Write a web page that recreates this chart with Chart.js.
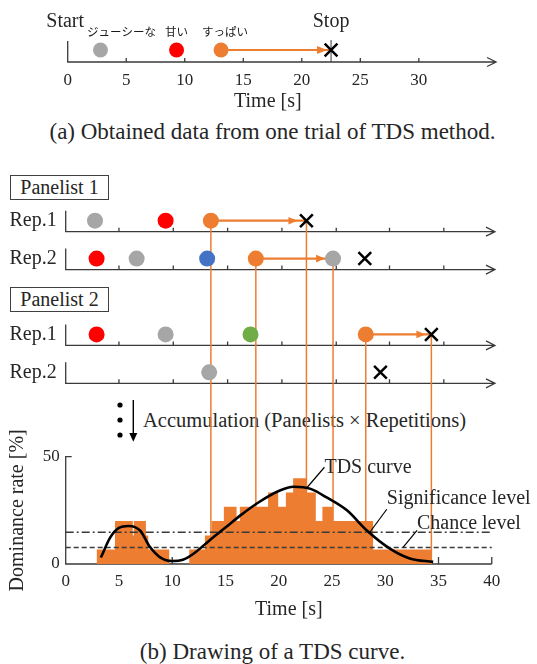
<!DOCTYPE html>
<html>
<head>
<meta charset="utf-8">
<script src="https://cdn.jsdelivr.net/npm/chart.js@4.4.1/dist/chart.umd.min.js"></script>
<style>
  html, body { margin: 0; padding: 0; background: #fff; }
  body { position: relative; width: 537px; height: 664px; overflow: hidden;
         font-family: "Liberation Serif", "Times New Roman", serif; color: #262626; }
  canvas { position: absolute; left: 0; z-index: 1; }
  .cap { position: absolute; left: 0; width: 545px; text-align: center; font-size: 23px; line-height: 28px; }
  .panel { position: absolute; left: 10px; width: 99px; height: 25px; box-sizing: border-box;
           border: 1.5px solid #404040; font-size: 20px; text-align: center; line-height: 22px; }
  .accum { position: absolute; left: 143px; top: 408px; font-size: 20.5px; line-height: 24px;
           white-space: nowrap; z-index: 0; }
</style>
</head>
<body>
<canvas id="chartA" width="537" height="118" style="top:0"></canvas>
<div class="cap" style="top:118px">(a) Obtained data from one trial of TDS method.</div>
<canvas id="chartB" width="537" height="460" style="top:170px"></canvas>
<div class="panel" style="top:175px">Panelist 1</div>
<div class="panel" style="top:287px">Panelist 2</div>
<div class="accum">Accumulation (Panelists × Repetitions)</div>
<div class="cap" style="top:638px">(b) Drawing of a TDS curve.</div>

<script>
// (a) one trial
const tickValsA = [0, 5, 10, 15, 20, 25, 30];
const axisEndA = 36.6;
const trialAttrs = ['ジューシーな', '甘い', 'すっぱい'];
const trialTimes = [2.8, 9.3, 13.1];
const stopA = 22.5;

// (b) panelists x repetitions
const rowLabels = ['Rep.1', 'Rep.2', 'Rep.1', 'Rep.2'];
const rowPos = [0, 1, 3, 4];
const rowTicks = [5.0, 10.1, 15.2, 20.3, 25.4, 30.4, 35.5];
const rowAxisEnd = 40.3;
// [row, time]
const juicyPts = [[0, 2.75], [1, 6.66], [1, 25.1], [2, 9.38], [3, 13.47]];
const sweetPts = [[0, 9.38], [1, 2.9], [2, 2.9]];
const sourPts = [[0, 13.63], [1, 17.85], [2, 28.17]];
const sourEnds = [22.6, 25.1, 34.33];
const bluePts = [[1, 13.28]];
const greenPts = [[2, 17.35]];
const stopPts = [[0, 22.6], [1, 28.08], [2, 34.33], [3, 29.55]];

// (b) dominance rate
const tickValsB = [0, 5, 10, 15, 20, 25, 30, 35, 40];
const rateTicks = [0, 50];
const binEdges = [2.9, 4.63, 6.3, 6.4, 7.53, 7.75, 9.72, 11.6, 13.07, 13.7, 14.85, 16.04, 16.35,
                  19.0, 19.95, 20.67, 21.35, 22.6, 23.48, 24.1, 25.1, 28.86, 34.35];
const binRates = [6.7, 20, 13.3, 20, 13.3, 6.7, 0, 6.7, 13.3, 20, 26.7, 20, 26.7,
                  33.3, 26.7, 33.3, 40, 33.3, 20, 26.7, 20, 6.7];
const curveT = [3.3, 4.2, 5.0, 5.9, 7.0, 7.9, 8.9, 10.0, 11.0, 12.0, 13.5, 15.0, 16.5, 18.2,
                20.0, 21.4, 23.0, 24.5, 26.4, 28.3, 30.4, 32.3, 34.5];
const curveRate = [3.0, 12.5, 16.8, 17.7, 15.5, 8.0, 3.0, 1.4, 2.0, 4.8, 11.0, 17.0, 23.0, 29.0,
                   34.0, 36.0, 35.0, 31.0, 25.0, 15.5, 7.3, 2.6, 1.0];
const sigLevel = 14.8;
const chanceLevel = 7.7;
const levelSpan = [0, 40];
const notes = ['TDS curve', 'Significance level', 'Chance level'];
const noteAt = [[22.6, 35.3], [28.55, 14.8], [31.67, 7.7]];

// styles
const ink = '#262626', axisInk = '#3a3a3a', orange = '#ed7d31';
const gray = '#a6a6a6', red = '#ff0000', blue = '#4472c4', green = '#70ad47';
const serif = '"Liberation Serif", "Times New Roman", serif';
const trialColors = [gray, red, orange];
const labelShiftA = [21, 0, 4];
const rowGap = 11;               // px from marker level down to row baseline
const arrowGapB = [9, 8, 6];     // px between arrow tip and end marker
const noteOffsets = [[18, -21, 1], [17, -23, -10], [14, -17, -7]];

Chart.defaults.font.family = serif;
Chart.defaults.color = ink;
Chart.defaults.animation = false;

function rowXY(pts) {
  return pts.map(([row, t]) => ({x: t, y: rowPos[row]}));
}

// keep the stacked left axes from adding label padding to the chart area
function noPad(s) {
  s.paddingTop = 0;
  s.paddingBottom = 0;
}

function arrowHead(ctx, xTip, yy, len, half) {
  ctx.fillStyle = orange;
  ctx.beginPath();
  ctx.moveTo(xTip, yy);
  ctx.lineTo(xTip - len, yy - half);
  ctx.lineTo(xTip - len, yy + half);
  ctx.closePath();
  ctx.fill();
}

// time axis with open arrow, start bar and small upward ticks
function timeAxis(ctx, x0, x1, yb, tickXs) {
  ctx.beginPath();
  ctx.moveTo(x0, yb - 21);
  ctx.lineTo(x0, yb);
  ctx.lineTo(x1, yb);
  tickXs.forEach(xt => { ctx.moveTo(xt, yb); ctx.lineTo(xt, yb - 4); });
  ctx.moveTo(x1 - 9, yb - 4.5);
  ctx.lineTo(x1, yb);
  ctx.lineTo(x1 - 9, yb + 4.5);
  ctx.stroke();
}

const decoA = {
  id: 'decoA',
  beforeDatasetsDraw(chart) {
    const {ctx, scales: {x, y}} = chart;
    const yb = chart.chartArea.bottom;
    ctx.save();
    ctx.strokeStyle = axisInk;
    ctx.lineWidth = 1.3;
    timeAxis(ctx, x.getPixelForValue(0), x.getPixelForValue(axisEndA), yb,
      tickValsA.slice(1).map(t => x.getPixelForValue(t)));
    ctx.lineWidth = 1;
    const xs = x.getPixelForValue(stopA);
    ctx.beginPath();
    ctx.moveTo(xs, yb - 22);
    ctx.lineTo(xs, yb);
    ctx.stroke();
    ctx.restore();
  },
  afterDatasetsDraw(chart) {
    const {ctx, scales: {x, y}} = chart;
    const y0 = y.getPixelForValue(0);
    ctx.save();
    arrowHead(ctx, x.getPixelForValue(stopA) - 4, y0, 10, 4);
    ctx.fillStyle = ink;
    ctx.textAlign = 'center';
    ctx.textBaseline = 'middle';
    ctx.font = '20px ' + serif;
    ctx.fillText('Start', x.getPixelForValue(0) - 2.5, y0 - 28.5);
    ctx.fillText('Stop', x.getPixelForValue(stopA), y0 - 28.5);
    ctx.font = '11.5px "Noto Sans CJK JP", sans-serif';
    ctx.fillStyle = '#1a1a1a';
    trialAttrs.forEach((s, i) => {
      ctx.fillText(s, x.getPixelForValue(trialTimes[i]) + labelShiftA[i], y0 - 18.5);
    });
    ctx.restore();
  }
};

new Chart(document.getElementById('chartA'), {
  type: 'scatter',
  data: {
    datasets: [
      ...trialTimes.map((t, i) => ({
        data: [{x: t, y: 0}], backgroundColor: trialColors[i],
        pointRadius: 7.5, borderWidth: 0, order: 0
      })),
      {
        data: [{x: stopA, y: 0}], pointStyle: 'crossRot', pointRadius: 9,
        borderColor: '#000', borderWidth: 2.5, order: 0
      },
      {
        type: 'line', data: [{x: trialTimes[2], y: 0}, {x: stopA, y: 0}],
        borderColor: orange, borderWidth: 2.2, pointRadius: 0, order: 1
      }
    ]
  },
  options: {
    responsive: false,
    devicePixelRatio: 1,
    events: [],
    layout: {autoPadding: false, padding: {left: 67.7, right: 69, top: 38, bottom: 0}},
    plugins: {legend: {display: false}, tooltip: {enabled: false}},
    scales: {
      x: {
        type: 'linear', min: 0, max: 34.2,
        afterBuildTicks: s => { s.ticks = tickValsA.map(v => ({value: v})); },
        afterFit: s => { s.height = 56; },
        grid: {display: false, drawTicks: false},
        border: {display: false},
        ticks: {font: {family: serif, size: 17}, padding: 8, maxRotation: 0, autoSkip: false},
        title: {display: true, text: 'Time [s]', font: {family: serif, size: 20}, padding: {top: 0, bottom: 4}}
      },
      y: {type: 'linear', display: false, min: -1, max: 1}
    }
  },
  plugins: [decoA]
});

const decoB = {
  id: 'decoB',
  beforeDatasetsDraw(chart) {
    const {ctx, scales: {x, y, rows}} = chart;
    ctx.save();
    ctx.strokeStyle = axisInk;
    ctx.lineWidth = 1.3;
    rowPos.forEach(p => {
      timeAxis(ctx, x.getPixelForValue(0), x.getPixelForValue(rowAxisEnd),
        rows.getPixelForValue(p) + rowGap, rowTicks.map(t => x.getPixelForValue(t)));
    });
    // dominance rate axes
    const y0 = y.getPixelForValue(0), yTop = y.getPixelForValue(rateTicks[1]);
    const xa = x.getPixelForValue(0);
    ctx.beginPath();
    ctx.moveTo(xa + 6, yTop);
    ctx.lineTo(xa, yTop);
    ctx.lineTo(xa, y0);
    ctx.lineTo(x.getPixelForValue(40), y0);
    tickValsB.slice(1).forEach(t => {
      const xt = x.getPixelForValue(t);
      ctx.moveTo(xt, y0);
      ctx.lineTo(xt, y0 - 7);
    });
    ctx.stroke();
    // guide lines from the sour intervals down to the histogram
    ctx.strokeStyle = orange;
    ctx.lineWidth = 1.5;
    sourPts.forEach(([row, t], i) => {
      const yr = rows.getPixelForValue(rowPos[row]);
      [t, sourEnds[i]].forEach(tt => {
        const xx = x.getPixelForValue(tt);
        ctx.beginPath();
        ctx.moveTo(xx, yr);
        ctx.lineTo(xx, y0);
        ctx.stroke();
      });
    });
    // accumulation dots and arrow
    ctx.fillStyle = '#000';
    [235, 250, 265].forEach(yy => {
      ctx.beginPath();
      ctx.arc(120, yy, 2.6, 0, Math.PI * 2);
      ctx.fill();
    });
    ctx.strokeStyle = '#000';
    ctx.lineWidth = 1.4;
    ctx.beginPath();
    ctx.moveTo(133.3, 230);
    ctx.lineTo(133.3, 264);
    ctx.stroke();
    ctx.beginPath();
    ctx.moveTo(133.3, 271.7);
    ctx.lineTo(129.3, 263);
    ctx.lineTo(137.3, 263);
    ctx.closePath();
    ctx.fill();
    ctx.restore();
  },
  afterDatasetsDraw(chart) {
    const {ctx, scales: {x, y, rows}} = chart;
    ctx.save();
    sourPts.forEach(([row, t], i) => {
      arrowHead(ctx, x.getPixelForValue(sourEnds[i]) - arrowGapB[i], rows.getPixelForValue(rowPos[row]), 9, 3.8);
    });
    ctx.strokeStyle = '#000';
    ctx.fillStyle = ink;
    ctx.lineWidth = 1.2;
    ctx.font = '20px ' + serif;
    ctx.textAlign = 'left';
    ctx.textBaseline = 'middle';
    notes.forEach((s, i) => {
      const ax = x.getPixelForValue(noteAt[i][0]), ay = y.getPixelForValue(noteAt[i][1]);
      const [dx, dy, ty] = noteOffsets[i];
      ctx.beginPath();
      ctx.moveTo(ax, ay);
      ctx.lineTo(ax + dx, ay + dy);
      ctx.stroke();
      ctx.fillText(s, ax + dx, ay + dy + ty);
    });
    ctx.restore();
  }
};

const histPts = binRates.map((v, i) => ({x: binEdges[i], y: v}));
histPts.push({x: binEdges[binEdges.length - 1], y: 0});

new Chart(document.getElementById('chartB'), {
  type: 'scatter',
  data: {
    datasets: [
      ...[[juicyPts, gray], [sweetPts, red], [sourPts, orange], [bluePts, blue], [greenPts, green]]
        .map(([pts, c]) => ({
          yAxisID: 'rows', data: rowXY(pts), backgroundColor: c,
          pointRadius: 8, borderWidth: 0, order: 0
        })),
      {
        yAxisID: 'rows', data: rowXY(stopPts), pointStyle: 'crossRot', pointRadius: 9,
        borderColor: '#000', borderWidth: 2.5, order: 0
      },
      ...sourPts.map(([row, t], i) => ({
        type: 'line', yAxisID: 'rows',
        data: [{x: t, y: rowPos[row]}, {x: sourEnds[i], y: rowPos[row]}],
        borderColor: orange, borderWidth: 2.2, pointRadius: 0, order: 1
      })),
      {
        type: 'line', yAxisID: 'y', data: curveT.map((t, i) => ({x: t, y: curveRate[i]})),
        borderColor: '#000', borderWidth: 2.6, pointRadius: 0,
        cubicInterpolationMode: 'monotone', order: 2
      },
      {
        type: 'line', yAxisID: 'y', data: levelSpan.map(t => ({x: t, y: sigLevel})),
        borderColor: axisInk, borderWidth: 1.3, borderDash: [8, 3, 2, 3], pointRadius: 0, order: 3
      },
      {
        type: 'line', yAxisID: 'y', data: levelSpan.map(t => ({x: t, y: chanceLevel})),
        borderColor: axisInk, borderWidth: 1.3, borderDash: [5, 3], pointRadius: 0, order: 3
      },
      {
        type: 'line', yAxisID: 'y', data: histPts, stepped: true, fill: 'origin',
        backgroundColor: orange, borderColor: 'rgba(0,0,0,0)', borderWidth: 0,
        pointRadius: 0, order: 4
      }
    ]
  },
  options: {
    responsive: false,
    devicePixelRatio: 1,
    events: [],
    layout: {autoPadding: false, padding: {left: 0, right: 25, top: 5, bottom: 0}},
    plugins: {legend: {display: false}, tooltip: {enabled: false}},
    scales: {
      x: {
        type: 'linear', min: 0, max: 41.9,
        afterBuildTicks: s => { s.ticks = tickValsB.map(v => ({value: v})); },
        afterFit: s => { s.height = 66; },
        grid: {display: false, drawTicks: false},
        border: {display: false},
        ticks: {font: {family: serif, size: 17}, padding: 7, maxRotation: 0, autoSkip: false},
        title: {display: true, text: 'Time [s]', font: {family: serif, size: 20}, padding: {top: 0, bottom: 8}}
      },
      y: {
        type: 'linear', axis: 'y', position: 'left', stack: 'left', stackWeight: 107.3,
        min: 0, max: 50,
        afterBuildTicks: s => { s.ticks = rateTicks.map(v => ({value: v})); },
        afterFit: s => { s.width = 65.7; noPad(s); },
        grid: {display: false, drawTicks: false},
        border: {display: false},
        ticks: {font: {family: serif, size: 17}, padding: 6, autoSkip: false},
        title: {display: true, text: 'Dominance rate [%]', font: {family: serif, size: 20}, padding: {top: 6, bottom: 0}}
      },
      rows: {
        type: 'linear', axis: 'y', position: 'left', stack: 'left', stackWeight: 281.7,
        min: -1.206, max: 6.227, reverse: true,
        afterBuildTicks: s => { s.ticks = rowPos.map(v => ({value: v})); },
        afterFit: s => { s.width = 65.7; noPad(s); },
        grid: {display: false, drawTicks: false},
        border: {display: false},
        ticks: {font: {family: serif, size: 20}, padding: 9, autoSkip: false, callback: (v, i) => rowLabels[i]}
      }
    }
  },
  plugins: [decoB]
});
</script>
</body>
</html>
